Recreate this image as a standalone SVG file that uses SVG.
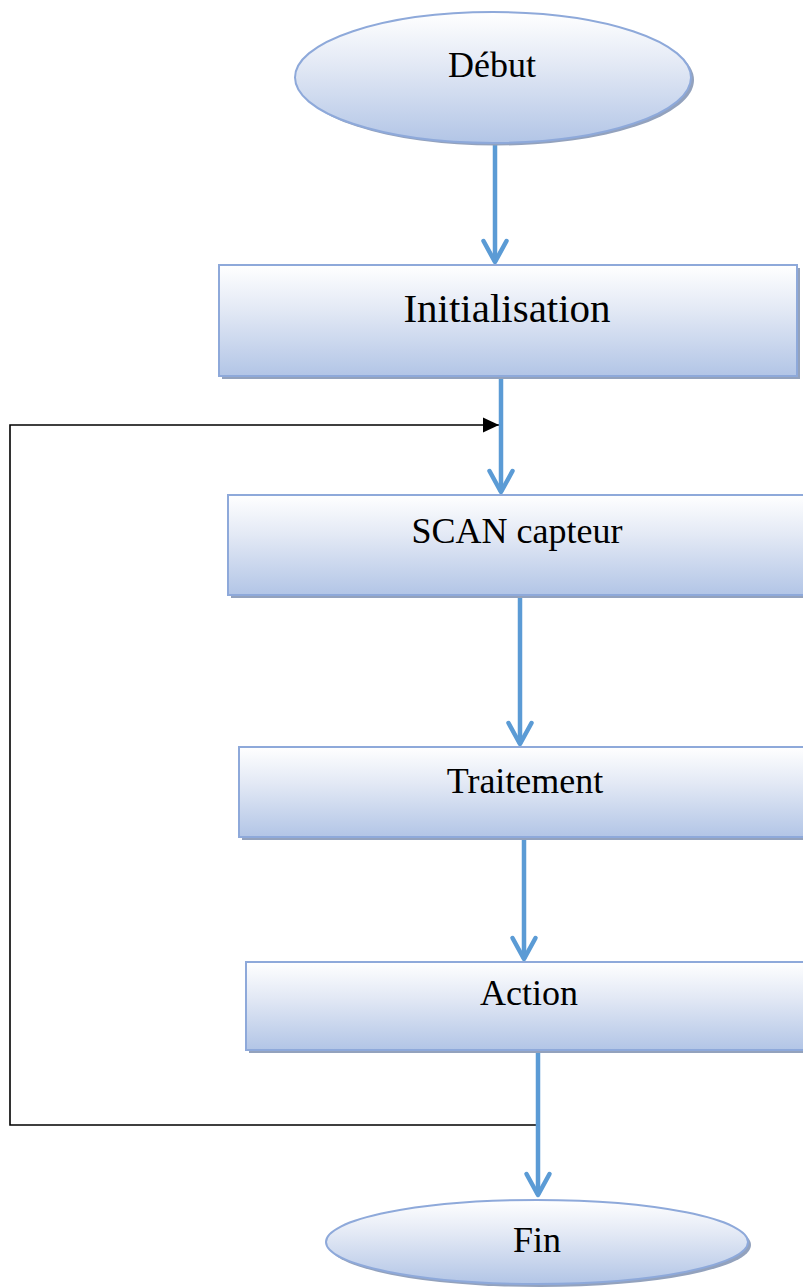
<svg xmlns="http://www.w3.org/2000/svg" width="803" height="1288" viewBox="0 0 803 1288">
<defs>
<linearGradient id="fillGrad" x1="0" y1="0" x2="0" y2="1">
<stop offset="0" stop-color="#FFFFFF"/>
<stop offset="0.4" stop-color="#E3E9F5"/>
<stop offset="1" stop-color="#B2C5E6"/>
</linearGradient>
<marker id="chev" markerUnits="userSpaceOnUse" viewBox="-30 -16 34 32" refX="0" refY="0" markerWidth="34" markerHeight="32" orient="auto" overflow="visible">
<path d="M-21,-11.5 L0,0 L-21,11.5" fill="none" stroke="#5B9BD5" stroke-width="4.5" stroke-linecap="round" stroke-linejoin="round"/>
</marker>
<marker id="tri" markerUnits="userSpaceOnUse" viewBox="-16 -8 16 16" refX="0" refY="0" markerWidth="16" markerHeight="16" orient="auto" overflow="visible">
<path d="M-16,-7.5 L0,0 L-16,7.5 Z" fill="#000000"/>
</marker>
</defs>
<style>
.shape{fill:url(#fillGrad);stroke:#8EA9DA;stroke-width:2}
.shadow{fill:#93A2BD}
.lbl{font-family:"Liberation Serif","Times New Roman",serif;font-size:36px;fill:#000000;text-anchor:middle}
.flow{fill:none;stroke:#5B9BD5;stroke-width:4.5;marker-end:url(#chev)}
.loop{fill:none;stroke:#000000;stroke-width:1.6}
</style>

<g id="connectors">
<path class="loop" d="M538,1125 H10 V425 H499" marker-end="url(#tri)"/>
<line class="flow" x1="495" y1="144" x2="495" y2="262"/>
<line class="flow" x1="501" y1="378" x2="501" y2="492"/>
<line class="flow" x1="520" y1="596" x2="520" y2="744"/>
<line class="flow" x1="524" y1="838" x2="524" y2="959"/>
<line class="flow" x1="538" y1="1051" x2="538" y2="1195"/>
</g>

<g id="debut">
<ellipse class="shadow" cx="496" cy="80" rx="198" ry="65.5"/>
<ellipse class="shape" cx="493" cy="77.5" rx="198" ry="65.5"/>
<text class="lbl" x="492" y="77">Début</text>
</g>

<g id="initialisation">
<rect class="shadow" x="222" y="268" width="578" height="111"/>
<rect class="shape" x="219" y="265" width="578" height="111"/>
<text class="lbl" x="507" y="322" style="font-size:41px">Initialisation</text>
</g>

<g id="scan">
<rect class="shadow" x="231" y="498" width="580" height="100"/>
<rect class="shape" x="228" y="495" width="580" height="100"/>
<text class="lbl" x="517" y="543">SCAN capteur</text>
</g>

<g id="traitement">
<rect class="shadow" x="242" y="750" width="570" height="90"/>
<rect class="shape" x="239" y="747" width="570" height="90"/>
<text class="lbl" x="525" y="793">Traitement</text>
</g>

<g id="action">
<rect class="shadow" x="249" y="965" width="565" height="88"/>
<rect class="shape" x="246" y="962" width="565" height="88"/>
<text class="lbl" x="529" y="1005">Action</text>
</g>

<g id="fin">
<ellipse class="shadow" cx="540" cy="1245" rx="211" ry="42"/>
<ellipse class="shape" cx="537" cy="1242" rx="211" ry="42"/>
<text class="lbl" x="537" y="1252">Fin</text>
</g>
</svg>
